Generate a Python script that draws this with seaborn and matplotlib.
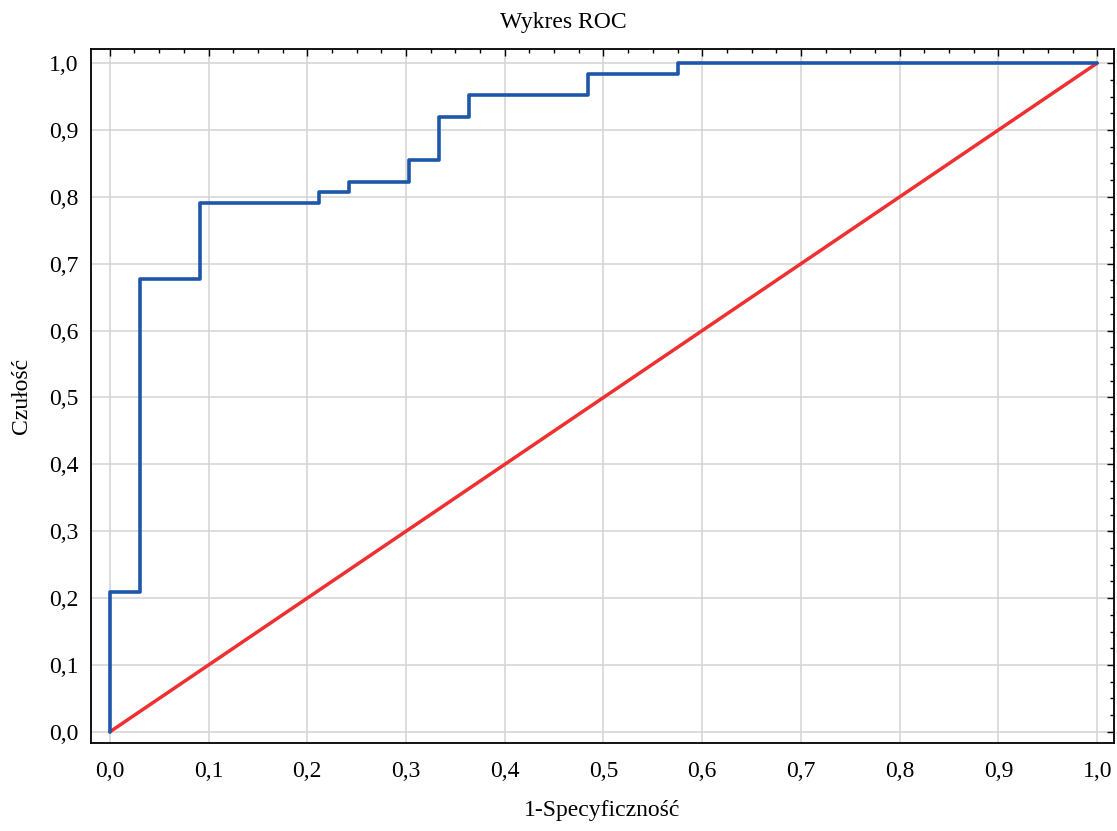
import numpy as np
import pandas as pd
import seaborn as sns
import matplotlib.pyplot as plt
from matplotlib.ticker import MultipleLocator, FuncFormatter

# ROC curve vertices (1-specificity, sensitivity), drawn as post steps
fpr = [0.0, 0.0, 0.0303, 0.0909, 0.2121, 0.2424, 0.3030, 0.3333, 0.3636, 0.4848, 0.5758, 1.0]
tpr = [0.0, 0.2097, 0.6774, 0.7903, 0.8065, 0.8226, 0.8548, 0.9194, 0.9516, 0.9839, 1.0, 1.0]

# reference diagonal
diag_x = [0.0, 1.0]
diag_y = [0.0, 1.0]

title = "Wykres ROC"
x_label = "1-Specyficzność"
y_label = "Czułość"

sns.set_theme(style="white")
plt.rcParams["font.family"] = ["Liberation Serif", "DejaVu Serif"]
plt.rcParams["text.color"] = "black"
plt.rcParams["axes.labelcolor"] = "black"
plt.rcParams["xtick.color"] = "black"
plt.rcParams["ytick.color"] = "black"

roc = pd.DataFrame({"fpr": fpr, "tpr": tpr})
diag = pd.DataFrame({"x": diag_x, "y": diag_y})

fig = plt.figure(figsize=(11.17, 8.31), dpi=100)
ax = fig.add_axes([0.0815, 0.106, 0.9158, 0.835])

sns.lineplot(data=diag, x="x", y="y", ax=ax, color="#EE3030", linewidth=2.5,
             estimator=None, sort=False)
sns.lineplot(data=roc, x="fpr", y="tpr", ax=ax, color="#1F57A8", linewidth=2.6,
             estimator=None, sort=False, drawstyle="steps-post")

ax.set_xlim(-0.019, 1.017)
ax.set_ylim(-0.0165, 1.021)

comma = FuncFormatter(lambda v, p: f"{v:.1f}".replace(".", ","))
for axis in (ax.xaxis, ax.yaxis):
    axis.set_major_locator(MultipleLocator(0.1))
    axis.set_minor_locator(MultipleLocator(0.025))
    axis.set_major_formatter(comma)

ax.grid(True, which="major", color="#D3D3D3", linewidth=1.1)
ax.set_axisbelow(True)

ax.tick_params(which="both", direction="in", top=True, right=True,
               color="black", width=1.0, labelsize=17, labelcolor="black")
ax.tick_params(which="major", length=5)
ax.tick_params(which="minor", length=2.7)
ax.tick_params(axis="x", which="major", pad=13)
ax.tick_params(axis="y", which="major", pad=9)

for s in ax.spines.values():
    s.set_visible(True)
    s.set_color("black")
    s.set_linewidth(1.3)

# title is centred on the figure, not on the axes
fig.text(0.504, 0.9735, title, fontsize=17, ha="center", va="center", color="black")
ax.set_xlabel(x_label, fontsize=17, labelpad=13, color="black")
ax.set_ylabel(y_label, fontsize=17, labelpad=12, color="black")

fig.savefig("out.png", dpi=100)
